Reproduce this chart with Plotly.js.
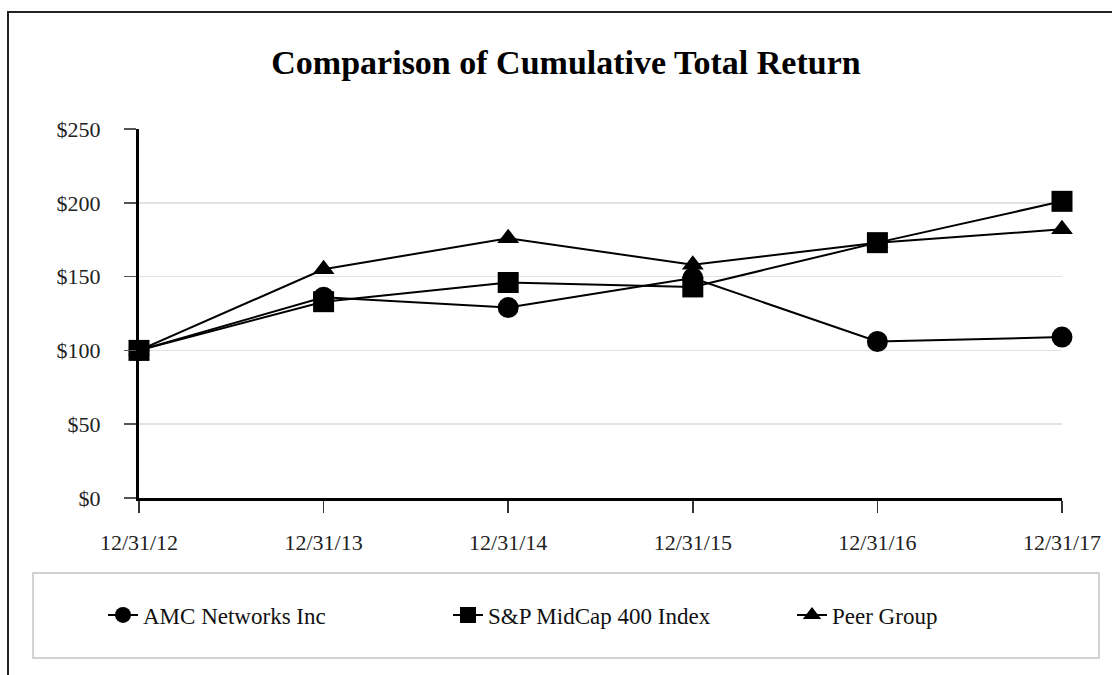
<!DOCTYPE html>
<html>
<head>
<meta charset="utf-8">
<script src="https://cdn.plot.ly/plotly-3.0.1.min.js"></script>
<style>
html,body{margin:0;padding:0;background:#fff;}
#chart{width:1112px;height:675px;}
</style>
</head>
<body>
<div id="chart"></div>
<script>
var dates = ["12/31/12","12/31/13","12/31/14","12/31/15","12/31/16","12/31/17"];
var amcNetworks = [100, 136, 129, 149, 106, 109];
var spMidCap400 = [100, 133, 146, 143, 173, 201];
var peerGroup = [100, 155, 176, 158, 173, 182];
var yTickVals = [0, 50, 100, 150, 200, 250];
var yTickText = ["$0","$50","$100","$150","$200","$250"];

var serif = "Liberation Serif, Times New Roman, serif";

function series(name, y, symbol, size, legendId) {
  return {
    type: "scatter", mode: "lines+markers", name: name,
    x: dates, y: y,
    line: {color: "#000", width: 2},
    marker: {symbol: symbol, size: size, color: "#000"},
    cliponaxis: false,
    legend: legendId
  };
}

var data = [
  series("AMC Networks Inc", amcNetworks, "circle", 21, "legend"),
  series("S&P MidCap 400 Index", spMidCap400, "square", 21, "legend2"),
  series("Peer Group", peerGroup, "triangle-up", 19, "legend3")
];

var L = 139, R = 1062, T = 129, B = 498;
function px(x){ return (x - L) / (R - L); }
function py(y){ return (B - y) / (B - T); }

function legendAt(xPix) {
  return {
    orientation: "h",
    x: px(xPix), xanchor: "left",
    y: py(615), yanchor: "middle",
    font: {family: serif, size: 23, color: "#111"},
    bgcolor: "rgba(0,0,0,0)", borderwidth: 0
  };
}

var layout = {
  width: 1112, height: 675,
  margin: {l: L, r: 1112 - R, t: T, b: 675 - B, pad: 0},
  paper_bgcolor: "#fff", plot_bgcolor: "#fff",
  font: {family: serif, color: "#000", size: 22},
  title: {
    text: "<b>Comparison of Cumulative Total Return</b>",
    font: {family: serif, size: 34, color: "#000"},
    x: px(566), xref: "paper", xanchor: "center",
    y: 1 - 62/675, yref: "container", yanchor: "middle"
  },
  xaxis: {
    type: "category", range: [0, 5],
    showgrid: false, zeroline: false,
    showline: true, linecolor: "#000", linewidth: 3,
    ticks: "outside", ticklen: 12, tickwidth: 1.5, tickcolor: "#333",
    ticklabelstandoff: 11,
    tickfont: {family: serif, size: 22, color: "#222"},
    fixedrange: true
  },
  yaxis: {
    range: [0, 250], tickvals: yTickVals, ticktext: yTickText,
    showgrid: true, gridcolor: "#e2e2e2", gridwidth: 1.5,
    zeroline: false,
    showline: true, linecolor: "#000", linewidth: 3,
    ticks: "outside", ticklen: 12, tickwidth: 1.5, tickcolor: "#555",
    ticklabelstandoff: 19,
    tickfont: {family: serif, size: 22, color: "#222"},
    fixedrange: true
  },
  showlegend: true,
  legend: legendAt(103),
  legend2: legendAt(448),
  legend3: legendAt(792),
  shapes: [
    {type: "rect", xref: "paper", yref: "paper",
     x0: px(33), x1: px(1099), y0: py(658), y1: py(573),
     line: {color: "#c4c4c4", width: 1.5}, fillcolor: "rgba(0,0,0,0)", layer: "below"},
    {type: "rect", xref: "paper", yref: "paper",
     x0: px(8), x1: px(1130), y0: py(700), y1: py(12),
     line: {color: "#222", width: 2}, fillcolor: "rgba(0,0,0,0)", layer: "below"}
  ]
};

Plotly.newPlot("chart", data, layout, {displayModeBar: false, staticPlot: true});
</script>
</body>
</html>
